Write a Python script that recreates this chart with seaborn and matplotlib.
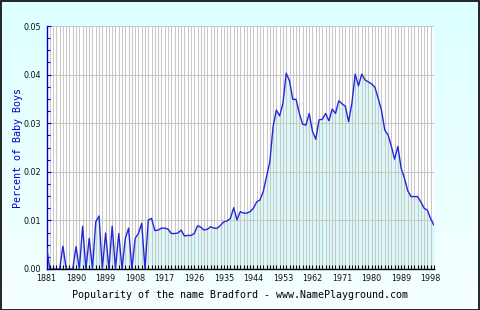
import numpy as np
import pandas as pd
import seaborn as sns
import matplotlib
matplotlib.use("Agg")
import matplotlib.pyplot as plt
from matplotlib.ticker import MultipleLocator, FixedLocator
from matplotlib.patches import Rectangle

# ---- data ----
years = list(range(1881, 2000))
percent = [
    0.0047, 0, 0, 0, 0, 0.0047, 0, 0, 0, 0.0046,
    0, 0.0088, 0, 0.0063, 0, 0.0097, 0.0109, 0, 0.0074, 0,
    0.0088, 0, 0.0073, 0, 0.0063, 0.0084, 0, 0.0063, 0.0073, 0.0094,
    0, 0.0101, 0.0104, 0.0079, 0.0080, 0.0084, 0.0084, 0.0082, 0.0073, 0.0073,
    0.0074, 0.0080, 0.0068, 0.0069, 0.0069, 0.0073, 0.0089, 0.0086, 0.0080, 0.0082,
    0.0087, 0.0084, 0.0084, 0.0090, 0.0097, 0.0099, 0.0104, 0.0126, 0.0101, 0.0118,
    0.0115, 0.0115, 0.0118, 0.0125, 0.0138, 0.0142, 0.0159, 0.0190, 0.0220, 0.0293,
    0.0327, 0.0315, 0.0341, 0.0403, 0.0387, 0.0349, 0.0349, 0.0320, 0.0298, 0.0296,
    0.0320, 0.0283, 0.0267, 0.0307, 0.0308, 0.0320, 0.0305, 0.0329, 0.0320, 0.0346,
    0.0340, 0.0335, 0.0303, 0.0341, 0.0401, 0.0377, 0.0401, 0.0389, 0.0385, 0.0381,
    0.0374, 0.0351, 0.0327, 0.0286, 0.0276, 0.0253, 0.0226, 0.0252, 0.0207, 0.0187,
    0.0161, 0.0149, 0.0149, 0.0149, 0.0138, 0.0125, 0.0121, 0.0103, 0.0090,
]
x_tick_labels = ["1881", "1890", "1899", "1908", "1917", "1926", "1935", "1944",
                 "1953", "1962", "1971", "1980", "1989", "1998"]
y_tick_labels = ["0.00", "0.01", "0.02", "0.03", "0.04", "0.05"]
x_label = "Popularity of the name Bradford - www.NamePlayground.com"
y_label = "Percent of Baby Boys"

df = pd.DataFrame({"year": years, "percent": percent})

sns.set_theme(style="white")
plt.rcParams["font.family"] = ["DejaVu Sans"]

W, H = 480, 310
fig = plt.figure(figsize=(W / 100, H / 100), dpi=100)

# background gradient
bg = fig.add_axes([0, 0, 1, 1], zorder=-10)
grad = np.linspace(0, 1, 256).reshape(-1, 1)
c_top = np.array([0xdc, 0xff, 0xff]) / 255
c_bot = np.array([0xf6, 0xff, 0xff]) / 255
img = c_top[None, None, :] * (1 - grad[:, :, None]) + c_bot[None, None, :] * grad[:, :, None]
bg.imshow(img, aspect="auto", extent=[0, 1, 0, 1])
bg.set_axis_off()

# main axes
L, R, T, B = 46.5, 434, 26, 269
ax = fig.add_axes([L / W, 1 - B / H, (R - L) / W, (B - T) / H])
ax.set_facecolor("white")

ax.fill_between(df["year"], 0, df["percent"], color="#dcf9f9", zorder=0.5, linewidth=0)
sns.lineplot(data=df, x="year", y="percent", ax=ax, color="#2626d8", linewidth=1.0, zorder=3)

ax.set_xlim(1881, 1999)
ax.set_ylim(0, 0.05)

# ticks
ax.xaxis.set_major_locator(FixedLocator([int(s) for s in x_tick_labels]))
ax.set_xticklabels(x_tick_labels)
ax.xaxis.set_minor_locator(MultipleLocator(1))
ax.yaxis.set_major_locator(FixedLocator([float(s) for s in y_tick_labels]))
ax.set_yticklabels(y_tick_labels)
ax.yaxis.set_minor_locator(MultipleLocator(0.0025))

ax.tick_params(axis="x", which="both", direction="in", length=3.2, width=0.8,
               color="black", labelsize=5.8, pad=3.5, bottom=True, labelcolor="#111111")
ax.tick_params(axis="y", which="major", direction="in", length=3.2, width=0.8,
               color="#0000cc", labelsize=5.8, pad=4, left=True, labelcolor="#111111")
ax.tick_params(axis="y", which="minor", direction="in", length=2.5, width=0.8,
               color="#0000cc", left=True)

# grid
ax.grid(False)
ax.xaxis.grid(True, which="both", color="#c8c8c8", linewidth=0.75, zorder=1)
ax.yaxis.grid(True, which="major", color="#c8c8c8", linewidth=0.75, zorder=1)
ax.set_axisbelow(True)

for side in ["top", "right"]:
    ax.spines[side].set_visible(False)
ax.spines["left"].set_color("#0000cc")
ax.spines["left"].set_linewidth(1.0)
ax.spines["bottom"].set_color("black")
ax.spines["bottom"].set_linewidth(1.0)

ax.set_xlabel("")
ax.set_ylabel("")

fig.text(239.5 / W, 1 - 294.5 / H, x_label, ha="center", va="center",
         fontsize=7.2, family="DejaVu Sans Mono", color="black")
fig.text(18 / W, 1 - 148 / H, y_label, ha="center", va="center", rotation=90,
         fontsize=7.2, family="DejaVu Sans Mono", color="#0000cc")

# black frame around the figure
fig.patches.append(Rectangle((0.5 / W, 0.5 / H), 1 - 1.5 / W, 1 - 1.5 / H,
                             transform=fig.transFigure, fill=False,
                             edgecolor="black", linewidth=1.2, zorder=20))

fig.savefig("out.png", dpi=100)
